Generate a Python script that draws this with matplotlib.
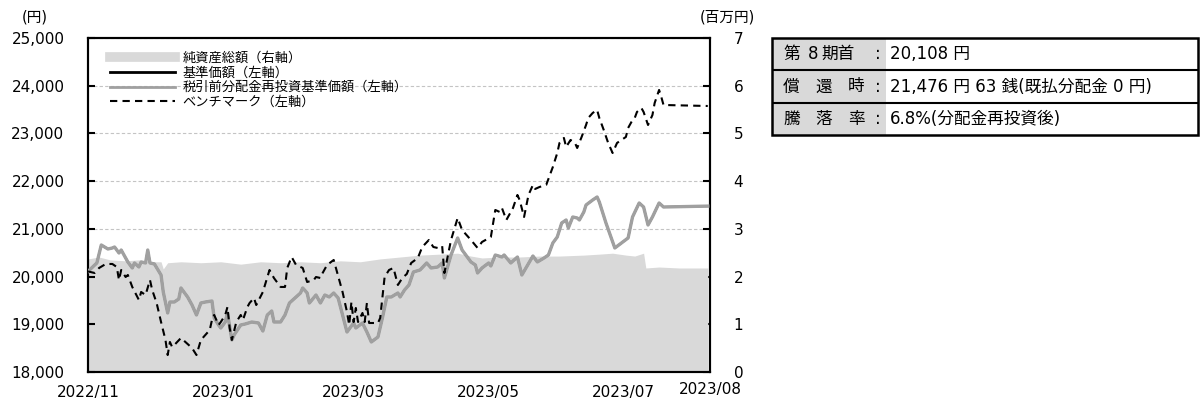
import numpy as np
import matplotlib
matplotlib.use("Agg")
import matplotlib.pyplot as plt
from matplotlib.lines import Line2D
from matplotlib.patches import Rectangle

plt.rcParams['font.family'] = ['DejaVu Sans', 'Noto Sans CJK JP']

# ---------------- data ----------------
start_date = np.datetime64('2022-11-01')
end_date = np.datetime64('2023-08-09')

# 基準価額 (= 税引前分配金再投資基準価額), days since 2022/11/01, yen
price_days = [0, 4, 6, 9, 11, 12, 14, 15, 18, 20, 21, 23, 24, 26, 27, 28, 30, 33, 34, 36,
              37, 39, 41, 42, 45, 47, 49, 51, 53, 56, 57, 59, 60, 62, 63, 65, 66, 69, 71, 74,
              77, 79, 81, 83, 84, 87, 89, 91, 94, 96, 97, 99, 100, 103, 105, 107, 109, 111, 113, 115,
              117, 120, 121, 124, 126, 128, 131, 133, 135, 137, 140, 141, 143, 145, 147, 150, 153, 155, 158, 160,
              161, 164, 167, 169, 173, 175, 176, 178, 181, 182, 184, 187, 188, 191, 194, 196, 201, 203, 206, 208,
              210, 212, 214, 216, 217, 219, 221, 222, 224, 225, 228, 230, 231, 234, 238, 241, 244, 246, 249, 251,
              253, 255, 258, 260, 280]
price_vals = [20108, 20285, 20662, 20578, 20599, 20620, 20494, 20557, 20306, 20180, 20285, 20201, 20306, 20285, 20557, 20285, 20264, 20033, 19677, 19237,
              19467, 19467, 19530, 19761, 19572, 19404, 19195, 19446, 19467, 19488, 19132, 18985, 18922, 19048, 19237, 18671, 18776, 18985, 19006, 19048,
              19027, 18859, 19195, 19279, 19048, 19048, 19195, 19446, 19572, 19656, 19761, 19656, 19446, 19614, 19446, 19614, 19572, 19656, 19551, 19195,
              18838, 19027, 18922, 19027, 18838, 18629, 18734, 19132, 19572, 19572, 19656, 19572, 19719, 19824, 20096, 20138, 20285, 20180, 20201, 20285,
              19970, 20452, 20809, 20557, 20306, 20243, 20075, 20180, 20285, 20222, 20452, 20410, 20452, 20285, 20410, 20033, 20431, 20306, 20389, 20452,
              20704, 20830, 21123, 21186, 21018, 21249, 21228, 21186, 21354, 21500, 21605, 21668, 21563, 21123, 20599, 20704, 20809, 21249, 21542, 21458,
              21081, 21249, 21542, 21458, 21477]

# ベンチマーク
bench_days = [0, 3, 5, 8, 11, 13, 14, 15, 17, 18, 20, 23, 24, 26, 28, 29, 31, 33, 35, 36,
              37, 38, 39, 42, 44, 47, 49, 51, 53, 55, 56, 57, 59, 60, 62, 63, 64, 65, 67, 69,
              70, 72, 73, 75, 76, 79, 82, 84, 87, 89, 90, 92, 94, 97, 99, 102, 103, 105, 106, 108,
              111, 112, 115, 117, 118, 119, 120, 121, 122, 124, 125, 126, 127, 131, 132, 134, 136, 138, 140, 142,
              144, 146, 149, 151, 154, 156, 158, 160, 161, 164, 167, 169, 173, 176, 178, 182, 184, 186, 187, 189,
              192, 194, 195, 197, 199, 201, 202, 204, 207, 210, 212, 213, 215, 216, 218, 220, 221, 223, 225, 226,
              228, 230, 231, 233, 235, 237, 239, 243, 244, 246, 247, 248, 250, 251, 253, 255, 256, 258, 259, 260,
              280]
bench_vals = [20108, 20075, 20180, 20264, 20264, 20201, 19928, 20138, 19991, 20033, 19782, 19509, 19677, 19614, 19928, 19719, 19446, 19048, 18671, 18356,
              18629, 18524, 18566, 18713, 18629, 18503, 18356, 18671, 18776, 18880, 19090, 19195, 18985, 19048, 19195, 19362, 18922, 18671, 19048, 19195,
              19090, 19362, 19446, 19551, 19404, 19677, 20138, 19970, 19782, 19782, 20180, 20410, 20243, 20180, 19886, 19928, 19991, 19970, 20075, 20243,
              20348, 20180, 19677, 19258, 18985, 19467, 19048, 19341, 19048, 19237, 19048, 19446, 19027, 19027, 19132, 19991, 20138, 20180, 19824, 19970,
              20054, 20285, 20389, 20620, 20767, 20620, 20599, 20641, 20075, 20767, 21228, 20976, 20767, 20599, 20725, 20830, 21396, 21354, 21437, 21186,
              21437, 21710, 21605, 21249, 21710, 21920, 21836, 21878, 21920, 22297, 22590, 22800, 22905, 22716, 22863, 22800, 22695, 22926, 23177, 23324,
              23429, 23492, 23324, 23072, 22800, 22590, 22800, 22926, 23114, 23282, 23324, 23450, 23533, 23450, 23177, 23387, 23638, 23911, 23764, 23596,
              23575]

# 純資産総額 (百万円)
nav_days = [0, 5, 10, 17, 23, 30, 33, 34, 36, 42, 51, 60, 69, 78, 87, 96, 105, 114, 123, 132,
            141, 150, 159, 167, 173, 178, 186, 195, 204, 213, 224, 231, 237, 243, 247, 251, 252, 258, 267, 280]
nav_vals = [2.37, 2.41, 2.35, 2.33, 2.35, 2.31, 2.31, 2.16, 2.29, 2.31, 2.29, 2.31, 2.26, 2.31, 2.29, 2.31, 2.29, 2.33, 2.31, 2.37,
            2.41, 2.45, 2.47, 2.49, 2.43, 2.39, 2.41, 2.41, 2.43, 2.43, 2.45, 2.47, 2.49, 2.45, 2.43, 2.49, 2.18, 2.20, 2.18, 2.18]

legend_labels = ['純資産総額（右軸）', '基準価額（左軸）', '税引前分配金再投資基準価額（左軸）', 'ベンチマーク（左軸）']
xtick_dates = ['2022-11-01', '2023-01-01', '2023-03-01', '2023-05-01', '2023-07-01', '2023-08-09']
xtick_labels = ['2022/11', '2023/01', '2023/03', '2023/05', '2023/07', '2023/08']
left_ticks = [18000, 19000, 20000, 21000, 22000, 23000, 24000, 25000]
right_ticks = [0, 1, 2, 3, 4, 5, 6, 7]

table_labels = [['第', '8', '期首'], ['償', '還', '時'], ['騰', '落', '率']]
table_values = ['20,108 円', '21,476 円 63 銭(既払分配金 0 円)', '6.8%(分配金再投資後)']

# ---------------- plot ----------------
W, H = 1200, 405
fig = plt.figure(figsize=(W / 100, H / 100), dpi=100)
L, R, T, B = 88, 710, 38, 372
ax2 = fig.add_axes([L / W, 1 - B / H, (R - L) / W, (B - T) / H])
ax = ax2.twinx()
ax.yaxis.tick_left()
ax2.yaxis.tick_right()

to_dates = lambda d: start_date + np.array(d).astype('timedelta64[D]')

# area on right axis
ax2.fill_between(to_dates(nav_days), nav_vals, 0, color='#d9d9d9', lw=0, zorder=2)
ax2.set_ylim(0, 7)
ax2.set_yticks(right_ticks)
ax2.yaxis.grid(True, color='#c4c4c4', ls=(0, (3, 2)), lw=0.8, zorder=1)
ax2.set_axisbelow(True)

ax.plot(to_dates(price_days), price_vals, color='black', lw=1.5, zorder=3)
ax.plot(to_dates(price_days), price_vals, color='#a0a0a0', lw=2.4, zorder=4)
ax.plot(to_dates(bench_days), bench_vals, color='black', lw=1.5, ls=(0, (3.5, 2.5)), zorder=5)
ax.set_ylim(18000, 25000)
ax.set_yticks(left_ticks)
ax.set_yticklabels([f'{v:,}' for v in left_ticks])
ax.set_xlim(start_date, end_date)
ax.patch.set_visible(False)

ax2.set_xticks([np.datetime64(d) for d in xtick_dates])
ax2.set_xticklabels(xtick_labels)
ax2.set_xlim(start_date, end_date)
ticks = ax2.xaxis.get_major_ticks()
ticks[0].tick1line.set_visible(False)
ticks[-1].tick1line.set_visible(False)
ticks[-1].label1.set_y(0.008)

for a in (ax, ax2):
    for s in a.spines.values():
        s.set_linewidth(1.5)
        s.set_color('black')
ax.tick_params(axis='y', direction='in', length=5, width=1.5, labelsize=11, pad=17)
ax2.tick_params(axis='y', direction='in', length=5, width=1.5, labelsize=11, pad=17)
ax2.tick_params(axis='x', direction='in', length=5, width=1.5, labelsize=11, pad=9)
ax.tick_params(axis='x', bottom=False, labelbottom=False)

fig.text(35 / W, 1 - 17 / H, '(円)', ha='center', va='center', fontsize=10.5)
fig.text(727 / W, 1 - 17 / H, '(百万円)', ha='center', va='center', fontsize=10.5)

handles = [Line2D([], [], color='#d9d9d9', lw=7),
           Line2D([], [], color='black', lw=2),
           Line2D([], [], color='#a0a0a0', lw=2),
           Line2D([], [], color='black', lw=1.5, ls=(0, (3.5, 2.5)))]
leg = ax.legend(handles, legend_labels, loc='upper left', bbox_to_anchor=(110 / W, 1 - 52 / H),
                bbox_transform=fig.transFigure, frameon=False, fontsize=9.5,
                handlelength=4.9, handletextpad=0.6, labelspacing=0.12, borderpad=0, borderaxespad=0)
leg.set_zorder(10)

# ---------------- table ----------------
tx0, tx1, ty0, ty1 = 772, 1198, 38, 135
tab = fig.add_axes([tx0 / W, 1 - ty1 / H, (tx1 - tx0) / W, (ty1 - ty0) / H])
tw, th = tx1 - tx0, ty1 - ty0
tab.set_xlim(0, tw)
tab.set_ylim(th, 0)
tab.axis('off')
tab.add_patch(Rectangle((0, 0), 114, th, facecolor='#d9d9d9', edgecolor='none'))
rh = th / 3
for i in range(1, 3):
    tab.plot([0, tw], [i * rh, i * rh], color='black', lw=1.5)
tab.add_patch(Rectangle((0, 0), tw, th, facecolor='none', edgecolor='black', lw=1.8, clip_on=False))
label_x = [[11, 36, 49], [11, 43, 76], [11, 43, 76]]
for i, (parts, val) in enumerate(zip(table_labels, table_values)):
    yc = (i + 0.5) * rh
    for p, px in zip(parts, label_x[i]):
        tab.text(px, yc, p, ha='left', va='center', fontsize=12)
    tab.text(106, yc, ':', ha='center', va='center', fontsize=12)
    tab.text(118, yc, val, ha='left', va='center', fontsize=12)

fig.savefig('out.png', dpi=100)
